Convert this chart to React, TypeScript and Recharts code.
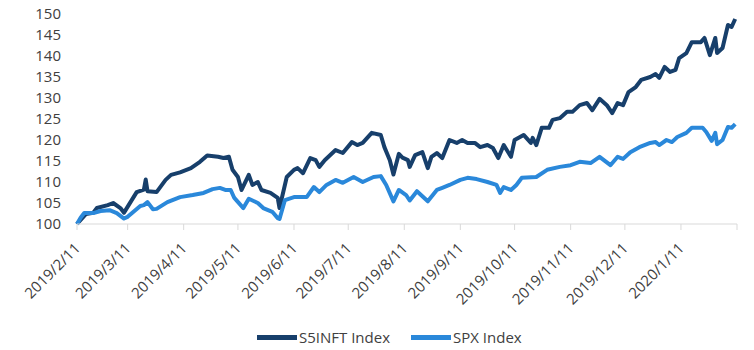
import { LineChart, Line, XAxis, YAxis, Legend } from "recharts";

// S5INFT Index (rebased to 100 on 2019/2/11)
const s5Dates = [
  "2019-02-11", "2019-02-16", "2019-02-20", "2019-02-22", "2019-02-28", "2019-03-03",
  "2019-03-07", "2019-03-09", "2019-03-16", "2019-03-20", "2019-03-21", "2019-03-22",
  "2019-03-27", "2019-04-01", "2019-04-04", "2019-04-09", "2019-04-15", "2019-04-20",
  "2019-04-24", "2019-04-30", "2019-05-03", "2019-05-06", "2019-05-08", "2019-05-11",
  "2019-05-13", "2019-05-17", "2019-05-19", "2019-05-22", "2019-05-24", "2019-05-29",
  "2019-06-02", "2019-06-03", "2019-06-07", "2019-06-11", "2019-06-13", "2019-06-16",
  "2019-06-20", "2019-06-23", "2019-06-25", "2019-06-28", "2019-07-04", "2019-07-08",
  "2019-07-13", "2019-07-16", "2019-07-19", "2019-07-24", "2019-07-29", "2019-07-31",
  "2019-08-03", "2019-08-05", "2019-08-08", "2019-08-10", "2019-08-13", "2019-08-14",
  "2019-08-17", "2019-08-21", "2019-08-24", "2019-08-26", "2019-08-29", "2019-09-01",
  "2019-09-05", "2019-09-09", "2019-09-12", "2019-09-15", "2019-09-19", "2019-09-22",
  "2019-09-26", "2019-09-29", "2019-10-02", "2019-10-05", "2019-10-09", "2019-10-11",
  "2019-10-16", "2019-10-20", "2019-10-21", "2019-10-23", "2019-10-26", "2019-10-30",
  "2019-11-01", "2019-11-05", "2019-11-09", "2019-11-12", "2019-11-16", "2019-11-20",
  "2019-11-23", "2019-11-27", "2019-12-01", "2019-12-04", "2019-12-07", "2019-12-10",
  "2019-12-13", "2019-12-17", "2019-12-20", "2019-12-25", "2019-12-28", "2019-12-30",
  "2020-01-02", "2020-01-05", "2020-01-08", "2020-01-10", "2020-01-14", "2020-01-17",
  "2020-01-22", "2020-01-24", "2020-01-27", "2020-01-30", "2020-01-31", "2020-02-03",
  "2020-02-06", "2020-02-08", "2020-02-10",
];
const s5Values = [
  100, 102.4, 102.7, 103.8, 104.5, 105,
  103.8, 102.7, 107.6, 108.2, 110.6, 107.8,
  107.6, 110.5, 111.7, 112.3, 113.3, 114.8,
  116.3, 116, 115.7, 116, 112.9, 111.2,
  108.1, 111.7, 109.3, 110, 108.1, 107.4,
  106.2, 103.8, 111.2, 112.9, 113.3, 112.1,
  115.7, 115.2, 113.6, 115.2, 117.6, 116.9,
  119.5, 118.8, 119.3, 121.7, 121.2, 118.3,
  115.2, 111.8, 116.7, 115.8, 115.2, 113.6,
  116.4, 117.1, 113.3, 116, 116.9, 115.7,
  120, 119.3, 120, 119.3, 119.3, 118.3,
  118.8, 118.1, 115.7, 118.8, 116, 120,
  121.2, 119.3, 120.5, 118.8, 122.9, 122.9,
  124.8, 125.2, 126.7, 126.7, 128.3, 128.8,
  127.1, 129.8, 128.3, 126.4, 128.8, 128.3,
  131.4, 132.6, 134.3, 135, 135.7, 134.8,
  137.4, 136.2, 136.7, 139.5, 140.7, 143.3,
  143.3, 144.3, 140.2, 144.3, 140.7, 141.9,
  147.4, 146.9, 148.8,
];

// SPX Index (rebased to 100 on 2019/2/11)
const spxDates = [
  "2019-02-11", "2019-02-13", "2019-02-15", "2019-02-20", "2019-02-24", "2019-03-01",
  "2019-03-05", "2019-03-09", "2019-03-11", "2019-03-18", "2019-03-20", "2019-03-22",
  "2019-03-25", "2019-03-27", "2019-04-02", "2019-04-09", "2019-04-16", "2019-04-22",
  "2019-04-27", "2019-05-01", "2019-05-04", "2019-05-07", "2019-05-09", "2019-05-14",
  "2019-05-17", "2019-05-22", "2019-05-25", "2019-05-30", "2019-06-02", "2019-06-03",
  "2019-06-06", "2019-06-11", "2019-06-18", "2019-06-22", "2019-06-25", "2019-06-29",
  "2019-07-04", "2019-07-08", "2019-07-14", "2019-07-19", "2019-07-25", "2019-07-29",
  "2019-08-01", "2019-08-05", "2019-08-08", "2019-08-12", "2019-08-14", "2019-08-18",
  "2019-08-24", "2019-08-29", "2019-09-01", "2019-09-05", "2019-09-11", "2019-09-15",
  "2019-09-20", "2019-09-26", "2019-10-01", "2019-10-03", "2019-10-05", "2019-10-09",
  "2019-10-12", "2019-10-15", "2019-10-23", "2019-10-29", "2019-11-05", "2019-11-11",
  "2019-11-16", "2019-11-22", "2019-11-27", "2019-12-03", "2019-12-07", "2019-12-10",
  "2019-12-14", "2019-12-19", "2019-12-25", "2019-12-28", "2019-12-30", "2020-01-03",
  "2020-01-06", "2020-01-09", "2020-01-14", "2020-01-17", "2020-01-23", "2020-01-25",
  "2020-01-28", "2020-01-30", "2020-01-31", "2020-02-03", "2020-02-06", "2020-02-08",
  "2020-02-10",
];
const spxValues = [
  100, 101.5, 102.6, 102.6, 103.1, 103.3,
  102.6, 101.3, 101.7, 104.3, 104.5, 105.2,
  103.5, 103.6, 105.2, 106.4, 106.9, 107.4,
  108.3, 108.6, 108.1, 108.1, 106.2, 103.8,
  106, 105, 103.8, 102.9, 101.4, 101.2,
  105.7, 106.4, 106.4, 108.8, 107.6, 109.3,
  110.5, 109.8, 111.2, 110, 111.2, 111.4,
  109.3, 105.4, 108.1, 106.9, 105.6, 107.8,
  105.4, 108.1, 108.6, 109.3, 110.5, 111,
  110.7, 110, 109.3, 107.4, 108.8, 108.1,
  109.3, 111, 111.2, 112.9, 113.6, 114,
  114.8, 114.5, 116, 114, 116, 115.5,
  117.1, 118.3, 119.3, 119.5, 118.8, 120,
  119.5, 120.7, 121.7, 122.9, 122.9, 121.9,
  119.8, 121.7, 119, 120, 123.1, 122.9,
  123.8,
];

const xTickDates = [
  "2019-02-11", "2019-03-11", "2019-04-11", "2019-05-11", "2019-06-11", "2019-07-11",
  "2019-08-11", "2019-09-11", "2019-10-11", "2019-11-11", "2019-12-11", "2020-01-11",
  "2020-02-11",
];
const yTicks = [100, 105, 110, 115, 120, 125, 130, 135, 140, 145, 150];

const toTime = (s: string) => {
  const [y, m, d] = s.split("-").map(Number);
  return Date.UTC(y, m - 1, d);
};

const s5Data = s5Dates.map((d, i) => ({ t: toTime(d), v: s5Values[i] }));
const spxData = spxDates.map((d, i) => ({ t: toTime(d), v: spxValues[i] }));
const xTicks = xTickDates.map(toTime);

const FONT = "'Open Sans', 'Noto Sans', sans-serif";
const TEXT = "#404040";
const DARK = "#173F6B";
const LIGHT = "#2A88DA";

function fmtDate(t: number): string {
  const d = new Date(t);
  return `${d.getUTCFullYear()}/${d.getUTCMonth() + 1}/${d.getUTCDate()}`;
}

function DateTick(props: any) {
  const { x, y, payload, index } = props;
  // last tick (2020/2/11) has no label in the original
  if (index === xTicks.length - 1) return <g />;
  return (
    <text
      transform={`translate(${x},${y}) rotate(-45)`}
      textAnchor="end"
      dominantBaseline="central"
      fontSize={15}
      fontFamily={FONT}
      fill={TEXT}
    >
      {fmtDate(payload.value)}
    </text>
  );
}

function renderLegend(props: any) {
  const { payload } = props;
  return (
    <div
      style={{
        display: "flex",
        alignItems: "center",
        height: 26,
        paddingLeft: 257,
        fontFamily: FONT,
        fontSize: 15,
        color: TEXT,
      }}
    >
      {payload.map((p: any, i: number) => (
        <div
          key={p.value}
          style={{ display: "flex", alignItems: "center", marginLeft: i ? 21 : 0 }}
        >
          <span
            style={{
              display: "inline-block",
              width: 40,
              height: 5,
              background: p.color,
              marginRight: 2,
            }}
          />
          <span>{p.value}</span>
        </div>
      ))}
    </div>
  );
}

export default function App() {
  return (
    <div style={{ position: "absolute", left: 0, top: 0, width: 754, height: 350, background: "#fff" }}>
      <LineChart width={754} height={350} margin={{ top: 14, right: 17, bottom: 0, left: 0 }}>
        <XAxis
          dataKey="t"
          type="number"
          scale="time"
          domain={[xTicks[0], xTicks[xTicks.length - 1]]}
          ticks={xTicks}
          interval={0}
          height={100}
          stroke="#D9D9D9"
          tickSize={6}
          tickMargin={15}
          tick={<DateTick />}
          allowDuplicatedCategory={false}
        />
        <YAxis
          type="number"
          domain={[100, 150]}
          ticks={yTicks}
          interval={0}
          width={77}
          axisLine={false}
          tickLine={false}
          tickSize={0}
          tickMargin={16}
          tick={{ fontSize: 15, fontFamily: FONT, fill: TEXT }}
        />
        <Line
          data={s5Data}
          dataKey="v"
          name="S5INFT Index"
          stroke={DARK}
          strokeWidth={4}
          dot={false}
          activeDot={false}
          type="linear"
          strokeLinejoin="round"
          isAnimationActive={false}
        />
        <Line
          data={spxData}
          dataKey="v"
          name="SPX Index"
          stroke={LIGHT}
          strokeWidth={4}
          dot={false}
          activeDot={false}
          type="linear"
          strokeLinejoin="round"
          isAnimationActive={false}
        />
        <Legend
          verticalAlign="bottom"
          align="left"
          height={26}
          content={renderLegend}
          wrapperStyle={{ left: 0, width: 754 }}
        />
      </LineChart>
    </div>
  );
}
